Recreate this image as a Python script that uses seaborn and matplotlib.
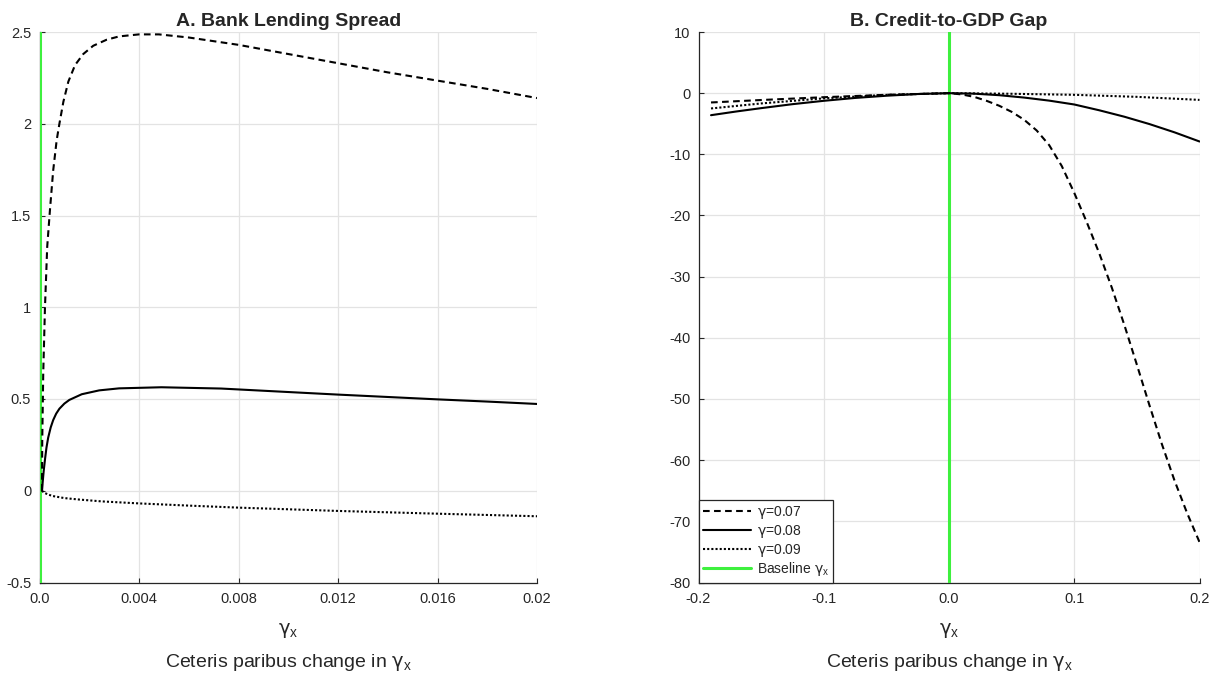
import matplotlib
matplotlib.use("Agg")
import matplotlib.pyplot as plt
import pandas as pd
import seaborn as sns

# ---------------- Panel A: bank lending spread ----------------
a_x_g07 = [0.0001, 0.00011, 0.00015, 0.00022, 0.00031, 0.00042, 0.00055, 0.00069,
           0.0008, 0.00096, 0.00116, 0.00143, 0.00176, 0.00216, 0.0027, 0.0032,
           0.004, 0.0048, 0.006, 0.008, 0.010, 0.012, 0.014, 0.016, 0.018, 0.020]
a_y_g07 = [0.0, 0.27, 0.64, 1.0, 1.33, 1.53, 1.745, 1.91,
           2.0, 2.12, 2.23, 2.32, 2.38, 2.425, 2.458, 2.476,
           2.487, 2.487, 2.47, 2.43, 2.38, 2.33, 2.28, 2.235, 2.19, 2.14]

a_x_g08 = [0.0001, 0.00013, 0.00017, 0.00022, 0.00028, 0.00035, 0.00045, 0.00055,
           0.00067, 0.0008, 0.001, 0.0012, 0.0017, 0.0024, 0.0032, 0.0049, 0.0073,
           0.010, 0.012, 0.014, 0.016, 0.018, 0.020]
a_y_g08 = [0.0, 0.05, 0.11, 0.17, 0.235, 0.29, 0.345, 0.385,
           0.42, 0.447, 0.475, 0.495, 0.526, 0.547, 0.558, 0.564, 0.557,
           0.538, 0.524, 0.511, 0.498, 0.486, 0.473]

a_x_g09 = [0.0001, 0.0002, 0.0005, 0.001, 0.0016, 0.0025, 0.004, 0.006,
           0.008, 0.012, 0.016, 0.020]
a_y_g09 = [0.0, -0.012, -0.028, -0.04, -0.048, -0.058, -0.069, -0.081,
           -0.092, -0.11, -0.125, -0.139]

a_xticks = [0.0, 0.004, 0.008, 0.012, 0.016, 0.02]
a_xticklabels = ["0.0", "0.004", "0.008", "0.012", "0.016", "0.02"]
a_yticks = [-0.5, 0, 0.5, 1, 1.5, 2, 2.5]
a_yticklabels = ["-0.5", "0", "0.5", "1", "1.5", "2", "2.5"]

# ---------------- Panel B: credit-to-GDP gap ----------------
b_x_g07 = [-0.19, -0.15, -0.10, -0.05, 0.0, 0.01, 0.02, 0.03, 0.04, 0.05, 0.06,
           0.07, 0.08, 0.09, 0.10, 0.11, 0.12, 0.13, 0.14, 0.15, 0.16, 0.17,
           0.18, 0.19, 0.20]
b_y_g07 = [-1.52, -1.12, -0.66, -0.27, 0.0, -0.2, -0.6, -1.25, -2.05, -3.05, -4.35,
           -6.1, -8.5, -11.9, -16.3, -21.1, -26.2, -31.8, -37.9, -44.4, -51.0, -57.4,
           -63.3, -68.6, -73.4]

b_x_g08 = [-0.19, -0.17, -0.15, -0.125, -0.10, -0.075, -0.05, -0.025, 0.0, 0.02,
           0.04, 0.06, 0.08, 0.10, 0.12, 0.14, 0.16, 0.18, 0.20]
b_y_g08 = [-3.6, -3.0, -2.45, -1.8, -1.25, -0.78, -0.42, -0.14, 0.0, -0.08,
           -0.33, -0.72, -1.22, -1.85, -2.8, -3.85, -5.05, -6.4, -7.9]

b_x_g09 = [-0.19, -0.15, -0.10, -0.05, 0.0, 0.05, 0.10, 0.15, 0.20]
b_y_g09 = [-2.5, -1.68, -0.85, -0.28, 0.0, -0.1, -0.27, -0.6, -1.1]

b_xticks = [-0.2, -0.1, 0.0, 0.1, 0.2]
b_xticklabels = ["-0.2", "-0.1", "0.0", "0.1", "0.2"]
b_yticks = list(range(-80, 11, 10))
b_yticklabels = [str(v) for v in b_yticks]

baseline_gamma_x = 0.0

series_labels = [r"$\gamma$=0.07", r"$\gamma$=0.08", r"$\gamma$=0.09"]
baseline_label = r"Baseline $\gamma_\mathrm{x}$"
line_styles = [(0, (3.2, 2.1)), "-", (0, (1.0, 1.0))]
baseline_color = "#3ef03e"
dark = "#262626"

sns.set_style("ticks")
plt.rcParams["font.family"] = ["Liberation Sans", "DejaVu Sans"]
plt.rcParams["mathtext.fontset"] = "custom"
plt.rcParams["mathtext.rm"] = "Liberation Sans"
plt.rcParams["mathtext.it"] = "DejaVu Sans"
plt.rcParams["mathtext.bf"] = "Liberation Sans:bold"

fig = plt.figure(figsize=(12.14, 6.78), dpi=100)
ax_a = fig.add_axes([39.5 / 1214, 1 - 582.5 / 678, 497.5 / 1214, 550.5 / 678])
ax_b = fig.add_axes([698.5 / 1214, 1 - 582.5 / 678, 501.0 / 1214, 550.5 / 678])


def draw_panel(ax, xs, ys, xlim, ylim, xticks, xtl, yticks, ytl, title):
    ax.axvline(baseline_gamma_x, color=baseline_color, lw=2.2, zorder=3,
               label=baseline_label)
    for x, y, lab, ls in zip(xs, ys, series_labels, line_styles):
        df = pd.DataFrame({"x": x, "y": y})
        sns.lineplot(data=df, x="x", y="y", ax=ax, color="black", lw=1.5,
                     linestyle=ls, label=lab, legend=False, zorder=4)
    ax.set_xlim(*xlim)
    ax.set_ylim(*ylim)
    ax.set_xticks(xticks)
    ax.set_xticklabels(xtl)
    ax.set_yticks(yticks)
    ax.set_yticklabels(ytl)
    ax.grid(True, color="#e3e3e3", lw=0.9)
    ax.set_axisbelow(True)
    for side in ("top", "right"):
        ax.spines[side].set_visible(False)
    for side in ("left", "bottom"):
        ax.spines[side].set_color(dark)
        ax.spines[side].set_linewidth(0.9)
    ax.tick_params(axis="both", direction="in", length=3.5, width=0.8,
                   colors=dark, labelsize=10.5, labelcolor=dark)
    ax.tick_params(axis="x", pad=7)
    ax.tick_params(axis="y", pad=6)
    ax.set_xlabel("")
    ax.set_ylabel("")
    ax.set_title(title, fontsize=14, fontweight="bold", pad=4)
    ax.annotate(r"$\gamma_\mathrm{x}$", xy=(0.5, 0), xycoords="axes fraction",
                xytext=(0, -37), textcoords="offset points", ha="center",
                va="baseline", fontsize=14, color=dark)
    ax.annotate(r"Ceteris paribus change in $\gamma_\mathrm{x}$", xy=(0.5, 0),
                xycoords="axes fraction", xytext=(0, -61), textcoords="offset points",
                ha="center", va="baseline", fontsize=14, color=dark)


draw_panel(ax_a, [a_x_g07, a_x_g08, a_x_g09], [a_y_g07, a_y_g08, a_y_g09],
           (0, 0.02), (-0.5, 2.5), a_xticks, a_xticklabels, a_yticks, a_yticklabels,
           "A. Bank Lending Spread")
draw_panel(ax_b, [b_x_g07, b_x_g08, b_x_g09], [b_y_g07, b_y_g08, b_y_g09],
           (-0.2, 0.2), (-80, 10), b_xticks, b_xticklabels, b_yticks, b_yticklabels,
           "B. Credit-to-GDP Gap")

h, l = ax_b.get_legend_handles_labels()
order = [l.index(s) for s in series_labels] + [l.index(baseline_label)]
leg = ax_b.legend([h[i] for i in order], [l[i] for i in order], loc="lower left",
                  borderaxespad=0, fontsize=10, handlelength=3.5, handletextpad=0.4,
                  labelspacing=0.12, frameon=True, fancybox=False,
                  borderpad=0.3)
leg.get_frame().set_edgecolor(dark)
leg.get_frame().set_linewidth(0.9)
leg.get_frame().set_alpha(1)

fig.savefig("out.png", dpi=100)
